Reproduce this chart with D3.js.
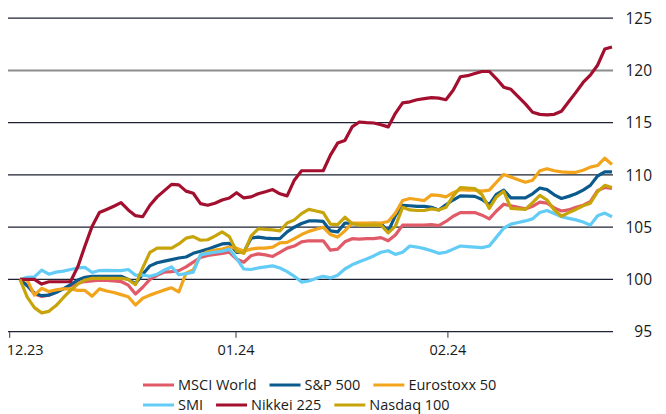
<!DOCTYPE html>
<html><head><meta charset="utf-8">
<script src="https://cdn.jsdelivr.net/npm/d3@7"></script>
<style>
html,body{margin:0;padding:0;background:#fff;}
svg{display:block;font-family:"Open Sans",sans-serif;}
</style></head>
<body><svg id="c" width="666" height="414"></svg>
<script>
// ---- data ----
const xTickPos = [-1.5, 29.85, 59.2];
const xTickLabels = ["12.23", "01.24", "02.24"];
const yTicks = [95, 100, 105, 110, 115, 120, 125];
const seriesNames = ["MSCI World", "S&P 500", "Eurostoxx 50", "SMI", "Nikkei 225", "Nasdaq 100"];
const seriesColors = ["#e05a68", "#0b5a8e", "#f2a41c", "#62ccf6", "#a3102f", "#c7a50a"];

const msci = [100,99.45,98.6,98.37,98.5,98.85,99.1,99.4,99.65,99.8,99.87,99.93,99.9,99.85,99.8,99.45,98.6,99.25,100.0,100.4,
100.7,100.75,100.85,101.2,101.65,102.1,102.3,102.4,102.5,102.6,101.95,101.65,102.27,102.45,102.35,102.2,102.6,103.0,103.2,103.6,
103.7,103.7,103.7,102.8,102.9,103.6,103.9,103.85,103.9,103.9,104.0,103.7,104.25,105.2,105.2,105.2,105.2,105.25,105.15,105.55,
106.05,106.4,106.4,106.4,106.15,105.8,106.55,107.2,107.05,106.9,106.75,107.0,107.4,107.3,106.85,106.55,106.65,106.9,107.1,107.45,
108.5,108.8,108.7];
const sp500 = [100,99.4,98.7,98.45,98.5,98.75,99.1,99.5,99.95,100.2,100.3,100.3,100.3,100.3,100.3,100.0,99.6,100.5,101.3,101.6,
101.75,101.9,102.05,102.15,102.5,102.7,102.9,103.15,103.4,103.45,102.6,102.6,103.95,104.05,103.95,103.9,103.9,104.55,105.0,105.35,
105.6,105.6,105.55,104.65,104.55,105.4,105.35,105.35,105.35,105.37,105.35,104.6,106.1,107.1,107.05,107.0,107.0,106.9,106.65,107.15,
107.6,108.0,107.97,107.95,107.65,107.15,108.15,108.55,107.8,107.8,107.8,108.2,108.75,108.6,108.1,107.75,107.95,108.2,108.55,109.0,
109.9,110.3,110.3];
const eurostoxx = [100,99.95,98.5,99.15,98.85,99.0,99.1,99.1,98.95,98.95,98.4,99.1,98.9,98.75,98.55,98.35,97.55,98.2,98.5,98.75,
99.0,99.2,98.8,100.6,100.9,102.3,102.65,102.8,102.9,103.1,103.0,102.7,102.9,103.0,103.0,103.1,103.5,103.55,103.9,104.3,
104.6,104.8,105.0,104.3,104.05,104.65,105.4,105.4,105.4,105.4,105.4,105.55,106.35,107.55,107.75,107.65,107.55,108.1,108.05,107.9,
108.3,108.6,108.55,108.55,108.45,108.55,109.3,110.05,109.8,109.55,109.3,109.5,110.4,110.6,110.4,110.3,110.25,110.25,110.45,110.75,
110.9,111.6,111.0];
const smi = [100,100.2,100.25,100.9,100.5,100.7,100.8,100.95,101.1,101.15,100.67,100.85,100.87,100.85,100.84,100.95,100.4,100.43,100.3,100.5,
100.9,101.2,100.45,100.55,100.7,102.35,102.5,102.6,102.7,102.9,102.0,101.0,100.95,101.1,101.2,101.3,101.1,100.75,100.3,99.75,
99.85,100.1,100.3,100.15,100.4,101.0,101.4,101.7,101.95,102.25,102.6,102.75,102.4,102.6,103.2,103.1,102.95,102.75,102.5,102.6,
102.9,103.2,103.15,103.1,103.05,103.2,104.05,104.9,105.3,105.45,105.6,105.8,106.4,106.6,106.3,106.0,105.85,105.7,105.5,105.2,
106.1,106.35,106.0];
const nikkei = [100,100,100,99.56,99.78,99.78,99.78,99.8,101.2,103.2,105.1,106.4,106.7,107.0,107.35,106.65,106.1,106.0,107.1,107.9,
108.5,109.1,109.05,108.45,108.25,107.25,107.1,107.3,107.6,107.8,108.3,107.8,107.9,108.2,108.4,108.6,108.2,108.0,109.5,110.4,
110.4,110.4,110.4,111.9,113.05,113.3,114.6,115.07,115.0,114.97,114.8,114.6,115.9,116.9,117.0,117.2,117.3,117.4,117.35,117.2,
118.1,119.4,119.5,119.7,119.9,119.9,119.2,118.4,118.2,117.5,116.8,116.0,115.8,115.75,115.8,116.1,117.0,117.9,118.85,119.55,
120.5,122.05,122.25];
const nasdaq = [100,98.3,97.3,96.8,96.95,97.5,98.25,98.95,99.55,99.95,100.1,100.1,100.1,100.1,100.1,100.0,99.5,101.1,102.6,103.0,
103.0,103.0,103.4,103.95,104.1,103.75,103.8,104.15,104.55,104.1,102.7,102.5,104.15,104.85,104.8,104.75,104.65,105.4,105.7,106.3,
106.7,106.55,106.4,105.3,105.25,105.95,105.35,105.2,105.2,105.2,105.2,104.45,105.1,106.9,106.65,106.6,106.6,106.75,106.65,106.9,
108.0,108.8,108.75,108.7,108.1,106.8,107.9,108.45,106.8,106.75,106.7,107.35,108.05,107.6,106.65,106.05,106.4,106.7,107.05,107.3,
108.4,109.0,108.8];
const seriesValues = [msci, sp500, eurostoxx, smi, nikkei, nasdaq];

// ---- layout ----
const svg = d3.select("#c");
const x = d3.scaleLinear().domain([-1.66, 82.14]).range([8, 613]);
const y = d3.scaleLinear().domain([95, 125]).range([331.7, 18.2]);

// gridlines
svg.append("g").selectAll("line").data(yTicks).join("line")
  .attr("x1", 8).attr("x2", 613)
  .attr("y1", d => y(d)).attr("y2", d => y(d))
  .attr("stroke", d => d === 120 ? "#8c8c8c" : "#1e2333")
  .attr("stroke-width", d => d === 120 ? 2 : 1.2);

// y labels
svg.append("g").selectAll("text").data(yTicks).join("text")
  .attr("x", 652).attr("y", d => y(d)).attr("dy", "0.36em")
  .attr("text-anchor", "end").attr("font-size", 15.5).attr("fill", "#1a1a1a")
  .text(d => d);

// x axis
const xAxis = d3.axisBottom(x).tickValues(xTickPos).tickSize(6)
  .tickFormat((d, i) => xTickLabels[i]);
const gx = svg.append("g").attr("transform", `translate(0,${y(95)})`).call(xAxis);
gx.select(".domain").remove();
gx.selectAll(".tick line").attr("stroke", "#555").attr("stroke-width", 1.2);
gx.selectAll(".tick text").attr("font-size", 14.5).attr("fill", "#1a1a1a")
  .attr("font-family", "Open Sans").attr("y", 13);
gx.selectAll(".tick text").filter((d, i) => i === 0).attr("text-anchor", "start").attr("dx", -3);

// series lines
const line = d3.line().x((d, i) => x(i)).y(d => y(d));
svg.append("g").selectAll("path").data(seriesValues).join("path")
  .attr("d", d => line(d))
  .attr("fill", "none")
  .attr("stroke", (d, i) => seriesColors[i])
  .attr("stroke-width", 3.2)
  .attr("stroke-linejoin", "round");

// legend
const rows = [[0, 1, 2], [3, 4, 5]];
const leg = svg.append("g").attr("font-size", 14.5).attr("fill", "#1a1a1a");
rows.forEach((row, r) => {
  let cx = 143;
  const cy = 385 + r * 20;
  row.forEach(k => {
    leg.append("line").attr("x1", cx).attr("x2", cx + 31).attr("y1", cy).attr("y2", cy)
      .attr("stroke", seriesColors[k]).attr("stroke-width", 3);
    const t = leg.append("text").attr("x", cx + 35).attr("y", cy).attr("dy", "0.35em")
      .text(seriesNames[k]);
    cx += 35 + t.node().getComputedTextLength() + 13;
  });
});
</script></body></html>
